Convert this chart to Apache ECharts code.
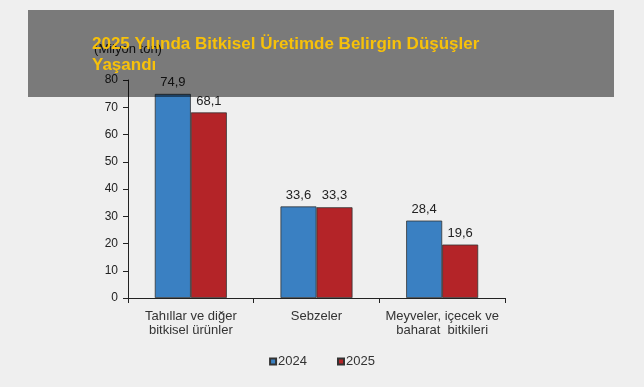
<!DOCTYPE html>
<html>
<head>
<meta charset="utf-8">
<script src="https://cdn.jsdelivr.net/npm/echarts@6/dist/echarts.min.js"></script>
<style>
html,body{margin:0;padding:0;background:#efefef;}
#chart{width:644px;height:387px;}
</style>
</head>
<body>
<div id="chart"></div>
<script>
var categories = ['Tahıllar ve diğer\nbitkisel ürünler', 'Sebzeler', 'Meyveler, içecek ve\nbaharat  bitkileri'];
var values2024 = [74.9, 33.6, 28.4];
var values2025 = [68.1, 33.3, 19.6];
var yTicks = { min: 0, max: 80, interval: 10 };

var chart = echarts.init(document.getElementById('chart'));
var font = 'Liberation Sans, Arial, sans-serif';
function fmt(p){ return String(p.value).replace('.', ','); }
chart.setOption({
  backgroundColor: '#efefef',
  animation: false,
  textStyle: { fontFamily: font },
  title: {
    text: '2025 Yılında Bitkisel Üretimde Belirgin Düşüşler\nYaşandı',
    left: 87, top: 29, z: 100,
    textStyle: { color: '#f7c10a', fontSize: 17, fontWeight: 'bold', lineHeight: 21, fontFamily: font }
  },
  graphic: [{
    type: 'rect', z: 50,
    shape: { x: 28, y: 10, width: 586, height: 87 },
    style: { fill: 'rgba(0,0,0,0.49)' }
  }],
  grid: { left: 128, right: 139, top: 80, bottom: 89 },
  legend: {
    bottom: 14, left: 'center',
    itemWidth: 6, itemHeight: 6, itemGap: 30,
    icon: 'rect',
    textStyle: { color: '#333', fontSize: 13, fontFamily: font, padding: [0,0,0,-3] },
    data: ['2024', '2025']
  },
  xAxis: {
    type: 'category',
    data: categories,
    axisLine: { lineStyle: { color: '#222', width: 1 } },
    axisTick: { show: true, length: 5, lineStyle: { color: '#222' } },
    axisLabel: { color: '#333', fontSize: 13, lineHeight: 14, margin: 11, interval: 0, fontFamily: font }
  },
  yAxis: {
    type: 'value',
    min: yTicks.min, max: yTicks.max, interval: yTicks.interval,
    name: '(Milyon ton)',
    nameLocation: 'end',
    nameGap: 24,
    nameTextStyle: { color: '#222', fontSize: 13, fontFamily: font },
    axisLine: { show: true, lineStyle: { color: '#222', width: 1 } },
    axisTick: { show: true, length: 5, lineStyle: { color: '#222' } },
    axisLabel: { color: '#222', fontSize: 12, margin: 10, fontFamily: font },
    splitLine: { show: false }
  },
  series: [
    {
      name: '2024', type: 'bar', data: values2024,
      barWidth: 36, barGap: '0%',
      itemStyle: { color: '#3a80c2', borderColor: '#333', borderWidth: 0.8 },
      label: { show: true, position: 'top', distance: 5, color: '#222', fontSize: 13, formatter: fmt, fontFamily: font }
    },
    {
      name: '2025', type: 'bar', data: values2025,
      barWidth: 36, barGap: '0%',
      itemStyle: { color: '#b42428', borderColor: '#333', borderWidth: 0.8 },
      label: { show: true, position: 'top', distance: 5, color: '#222', fontSize: 13, formatter: fmt, fontFamily: font }
    }
  ]
});
</script>
</body>
</html>
